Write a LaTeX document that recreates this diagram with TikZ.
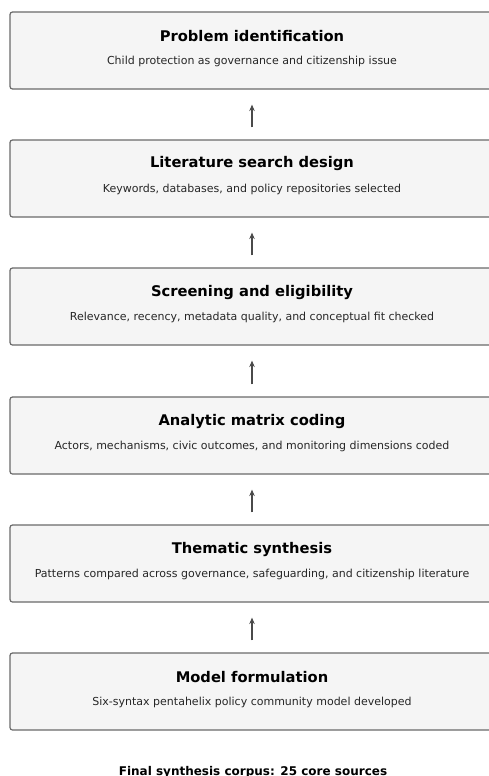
\documentclass[tikz,border=0pt]{standalone}
\usepackage{fontspec}
\setmainfont{DejaVu Sans}
\usetikzlibrary{arrows.meta}
\definecolor{boxfill}{HTML}{F5F5F5}
\definecolor{boxline}{HTML}{6A6A6A}
\definecolor{arrowc}{HTML}{4A4A4A}
\begin{document}
\begin{tikzpicture}[x=1pt,y=1pt,
  stagebox/.style={draw=boxline, line width=1.2pt, fill=boxfill, rounded corners=2.5pt,
    minimum width=484pt, minimum height=77pt, inner sep=0pt},
  ttl/.style={font=\bfseries\fontsize{14.7}{16}\selectfont, text=black, inner sep=0pt},
  sub/.style={font=\fontsize{11}{13}\selectfont, text=black!85, inner sep=0pt},
  flow/.style={draw=arrowc, line width=1.1pt, -{Stealth[length=6.5pt,width=5.5pt]},
    shorten <=12pt, shorten >=15pt}]
\useasboundingbox (0,0) rectangle (488,-776);
\fill[white] (0,0) rectangle (488,-776);
\foreach \i/\top/\t/\s in {
  1/12/Problem identification/Child protection as governance and citizenship issue,
  2/140/Literature search design/{Keywords, databases, and policy repositories selected},
  3/268/Screening and eligibility/{Relevance, recency, metadata quality, and conceptual fit checked},
  4/397/Analytic matrix coding/{Actors, mechanisms, civic outcomes, and monitoring dimensions coded},
  5/525/Thematic synthesis/{Patterns compared across governance, safeguarding, and citizenship literature},
  6/653/Model formulation/Six-syntax pentahelix policy community model developed}{
  \node[stagebox] (b\i) at (252,-\top-38.5) {};
  \node[ttl] (t\i) at ([yshift=14.5pt]b\i.center) {\t};
  \node[sub] (s\i) at ([yshift=-10.5pt]b\i.center) {\s};
}
\foreach \a/\b in {2/1,3/2,4/3,5/4,6/5}{
  \draw[flow] (b\a) -- (b\b);
}
\node[font=\bfseries\fontsize{12}{14}\selectfont, inner sep=0pt, anchor=base] (foot) at (253,-775) {Final synthesis corpus: 25 core sources};
\end{tikzpicture}
\end{document}
